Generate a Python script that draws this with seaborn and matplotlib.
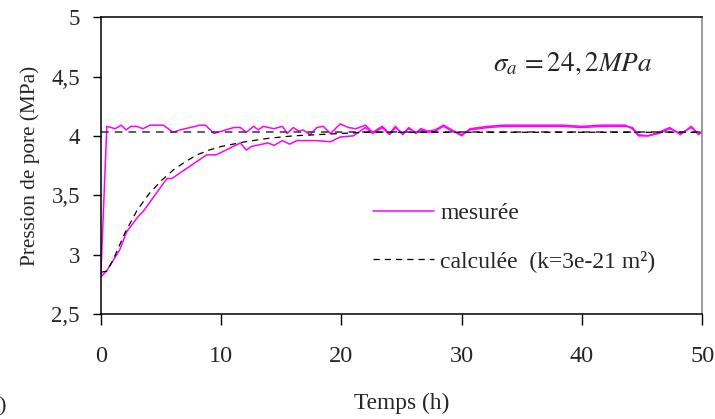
import matplotlib
matplotlib.use("Agg")
import matplotlib.pyplot as plt
import seaborn as sns
import numpy as np


# ── Data ──────────────────────────────────────────────────────────────────────

# measured pore pressure, fast response (jumps to ~4.08 at t~0.5 h)
t_fast = [0, 0.5, 1.2, 1.7, 2.1, 2.5, 3.0, 3.5, 4.1, 5.2, 6.0, 6.6, 8.25, 8.7,
          9.4, 11.05, 11.6, 12.1, 12.7, 13.1, 13.5, 14.4, 15.1, 15.5, 16.0,
          16.45, 16.8, 17.4, 17.97, 18.5, 19.1, 19.9, 20.6, 21.2, 22.0, 22.6,
          23.4, 24.0, 24.5, 25.1, 25.6, 26.2, 26.6, 27.2, 27.8, 28.5, 29.2,
          30.0, 30.7, 32.2, 33.6, 36.7, 38.3, 40.0, 41.7, 43.6, 44.2, 44.7,
          45.5, 46.4, 47.3, 48.2, 49.1, 49.7, 50.0]
p_fast = [2.82, 4.08, 4.06, 4.09, 4.05, 4.08, 4.08, 4.06, 4.09, 4.09, 4.03,
          4.05, 4.09, 4.09, 4.02, 4.07, 4.07, 4.03, 4.08, 4.05, 4.08, 4.06,
          4.08, 4.02, 4.07, 4.04, 4.05, 4.01, 4.07, 4.08, 4.02, 4.10, 4.07,
          4.06, 4.09, 4.03, 4.08, 4.02, 4.08, 4.01, 4.07, 4.02, 4.06, 4.04,
          4.05, 4.09, 4.05, 4.00, 4.06, 4.08, 4.09, 4.09, 4.09, 4.08, 4.09,
          4.09, 4.06, 4.00, 4.00, 4.03, 4.07, 4.01, 4.08, 4.01, 4.04]

# measured pore pressure, slow response
t_slow = [0, 0.47, 1.58, 2.14, 3.1, 3.5, 5.5, 5.9, 8.8, 9.6, 11.6, 12.1, 12.5,
          13.9, 14.4, 15.1, 15.7, 16.3, 17.9, 19.1, 19.9, 21.0, 22.0, 22.6,
          23.4, 24.0, 24.5, 25.1, 25.6, 26.2, 26.6, 27.2, 27.8, 28.5, 29.2,
          30.0, 30.7, 32.2, 33.6, 36.7, 38.3, 40.0, 41.7, 43.6, 44.2, 44.7,
          45.5, 46.4, 47.3, 48.2, 49.1, 49.7, 50.0]
p_slow = [2.81, 2.86, 3.04, 3.19, 3.32, 3.36, 3.64, 3.64, 3.84, 3.84, 3.94,
          3.88, 3.91, 3.94, 3.92, 3.96, 3.93, 3.96, 3.96, 3.95, 3.99, 4.00,
          4.07, 4.02, 4.07, 4.01, 4.07, 4.02, 4.06, 4.03, 4.05, 4.03, 4.04,
          4.08, 4.04, 4.01, 4.05, 4.07, 4.08, 4.08, 4.08, 4.07, 4.08, 4.08,
          4.07, 4.01, 4.00, 4.02, 4.06, 4.02, 4.07, 4.02, 4.03]

# calculated response (k = 3e-21 m²)
t_calc = [0, 0.5, 1, 2, 3, 4, 5, 6, 7, 8, 9, 10, 12, 14, 16, 18, 20, 22, 25,
          30, 40, 50]
p_calc = [2.85, 2.86, 2.95, 3.18, 3.37, 3.51, 3.62, 3.71, 3.78, 3.84, 3.88,
          3.91, 3.95, 3.98, 4.00, 4.01, 4.02, 4.03, 4.03, 4.03, 4.03, 4.03]

# calculated, immediate response level
t_flat = [0, 50]
p_flat = [4.03, 4.03]

x_ticks = [0, 10, 20, 30, 40, 50]
y_ticks = [2.5, 3.0, 3.5, 4.0, 4.5, 5.0]
y_tick_labels = ["2,5", "3", "3,5", "4", "4,5", "5"]


# ── Plot ──────────────────────────────────────────────────────────────────────

sns.set_theme(style="white")
plt.rcParams["font.family"] = ["Liberation Serif", "DejaVu Serif"]
plt.rcParams["mathtext.fontset"] = "stix"

fig, ax = plt.subplots(figsize=(7.15, 4.19), dpi=100)
fig.subplots_adjust(left=0.141, right=0.982, top=0.959, bottom=0.251)

magenta = "#ff00ff"
sns.lineplot(x=t_fast, y=p_fast, ax=ax, color=magenta, lw=1.1, sort=False,
             label="mesurée")
sns.lineplot(x=t_slow, y=p_slow, ax=ax, color=magenta, lw=1.1, sort=False)
sns.lineplot(x=t_flat, y=p_flat, ax=ax, color="#333333", lw=1.1,
             linestyle=(0, (5, 4)))
sns.lineplot(x=t_calc, y=p_calc, ax=ax, color="black", lw=0.9,
             linestyle=(0, (5, 4)), label="calculée  (k=3e-21 m²)")

ax.set_xlim(0, 50)
ax.set_ylim(2.5, 5)
ax.set_xticks(x_ticks)
ax.set_yticks(y_ticks)
ax.set_yticklabels(y_tick_labels)
ax.tick_params(axis="x", direction="out", length=8, width=1, pad=15,
               labelsize=17.5, bottom=True, color="black")
ax.tick_params(axis="y", direction="out", length=6, width=1, pad=9,
               labelsize=16.5, left=True, color="black")

for side in ["left", "bottom", "top"]:
    ax.spines[side].set_color("black")
    ax.spines[side].set_linewidth(1.1)
ax.spines["right"].set_color("#808080")
ax.spines["right"].set_linewidth(1.1)

ax.set_xlabel("Temps (h)", fontsize=16.8, labelpad=19)
ax.set_ylabel("Pression de pore (MPa)", fontsize=15.3, labelpad=8)

ax.text(0.652, 0.845, r"$\sigma_a\, = 24,2MPa$", transform=ax.transAxes,
        fontsize=19.5, va="center", ha="left")

ax.legend(loc="center left", bbox_to_anchor=(0.452, 0.258), frameon=False,
          fontsize=17, handlelength=2.6, handletextpad=0.26,
          labelspacing=1.1, borderpad=0, borderaxespad=0)

fig.text(-0.002, 0.03, ")", fontsize=16, ha="left", va="center")

plt.savefig("out.png", dpi=100)
plt.close()
